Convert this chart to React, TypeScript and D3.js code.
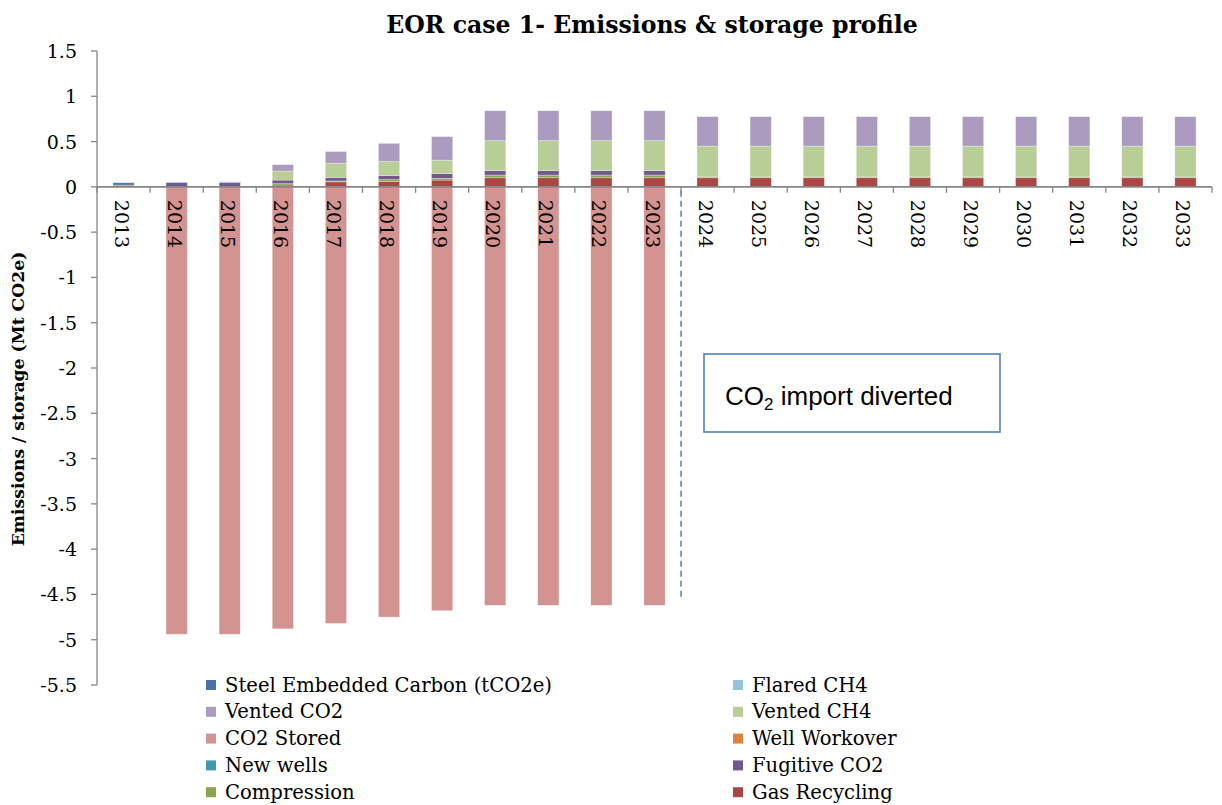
import React from 'react';
import * as d3 from 'd3';

const years = ['2013','2014','2015','2016','2017','2018','2019','2020','2021','2022','2023','2024','2025','2026','2027','2028','2029','2030','2031','2032','2033'];

// series values (Mt CO2e)
const gasRecycling = [0, 0, 0, 0.02, 0.055, 0.06, 0.075, 0.10, 0.10, 0.10, 0.10, 0.10, 0.10, 0.10, 0.10, 0.10, 0.10, 0.10, 0.10, 0.10, 0.10];
const compression = [0, 0, 0, 0.015, 0.01, 0.02, 0.02, 0.03, 0.03, 0.03, 0.03, 0.01, 0.01, 0.01, 0.01, 0.01, 0.01, 0.01, 0.01, 0.01, 0.01];
const fugitiveCO2 = [0, 0.05, 0.05, 0.04, 0.04, 0.045, 0.05, 0.05, 0.05, 0.05, 0.05, 0, 0, 0, 0, 0, 0, 0, 0, 0, 0];
const newWells = [0, 0, 0, 0, 0, 0, 0, 0, 0, 0, 0, 0, 0, 0, 0, 0, 0, 0, 0, 0, 0];
const wellWorkover = [0.02, 0, 0, 0, 0, 0, 0, 0, 0, 0, 0, 0, 0, 0, 0, 0, 0, 0, 0, 0, 0];
const co2Stored = [0, -4.94, -4.94, -4.88, -4.82, -4.75, -4.68, -4.62, -4.62, -4.62, -4.62, 0, 0, 0, 0, 0, 0, 0, 0, 0, 0];
const ventedCH4 = [0, 0, 0, 0.10, 0.155, 0.155, 0.15, 0.33, 0.33, 0.33, 0.33, 0.34, 0.34, 0.34, 0.34, 0.34, 0.34, 0.34, 0.34, 0.34, 0.34];
const ventedCO2 = [0, 0, 0, 0.07, 0.13, 0.20, 0.26, 0.33, 0.33, 0.33, 0.33, 0.325, 0.325, 0.325, 0.325, 0.325, 0.325, 0.325, 0.325, 0.325, 0.325];
const flaredCH4 = [0, 0.005, 0.007, 0, 0, 0, 0, 0, 0, 0, 0, 0, 0, 0, 0, 0, 0, 0, 0, 0, 0];
const steelEmbedded = [0.025, 0, 0, 0, 0, 0, 0, 0, 0, 0, 0, 0, 0, 0, 0, 0, 0, 0, 0, 0, 0];

const yTicks = [1.5, 1, 0.5, 0, -0.5, -1, -1.5, -2, -2.5, -3, -3.5, -4, -4.5, -5, -5.5];

// legend order (row-wise, two columns)
const seriesDefs = [
  { name: 'Steel Embedded Carbon (tCO2e)', values: steelEmbedded, color: '#4a72a8' },
  { name: 'Flared CH4', values: flaredCH4, color: '#93c4d8' },
  { name: 'Vented CO2', values: ventedCO2, color: '#aa9bbf' },
  { name: 'Vented CH4', values: ventedCH4, color: '#b9cd96' },
  { name: 'CO2 Stored', values: co2Stored, color: '#d39391' },
  { name: 'Well Workover', values: wellWorkover, color: '#db843d' },
  { name: 'New wells', values: newWells, color: '#4198af' },
  { name: 'Fugitive CO2', values: fugitiveCO2, color: '#71588f' },
  { name: 'Compression', values: compression, color: '#89a54e' },
  { name: 'Gas Recycling', values: gasRecycling, color: '#aa4643' },
];

const W = 1222, H = 805;
const left = 97, right = 1212, top = 51, bottom = 685;
const serif = '"DejaVu Serif", serif';

export default function App() {
  const x = d3.scaleBand<string>().domain(years).range([left, right]).paddingInner(0.6).paddingOuter(0.3);
  const y = d3.scaleLinear().domain([-5.5, 1.5]).range([bottom, top]);

  // stacking order: reverse of legend (Gas Recycling at bottom)
  const stackOrder = [...seriesDefs].reverse();
  const rows = years.map((yr, i) => {
    const r: any = { year: yr };
    stackOrder.forEach(s => { r[s.name] = s.values[i]; });
    return r;
  });
  const stack = d3.stack<any>().keys(stackOrder.map(s => s.name)).offset(d3.stackOffsetDiverging);
  const layers = stack(rows);
  const colorOf = (n: string) => seriesDefs.find(s => s.name === n)!.color;

  const step = x.step();
  const y0 = y(0);
  const boundaries = d3.range(years.length + 1).map(i => left + i * step);

  const divX = (x('2023')! + x('2024')! + x.bandwidth()) / 2;

  return (
    <div style={{ position: 'absolute', left: 0, top: 0 }}>
      <svg width={W} height={H} style={{ display: 'block', background: '#fff' }}>
        <text x={652} y={33} textAnchor="middle" fontFamily={serif} fontWeight="bold" fontSize={23.6}>EOR case 1- Emissions &amp; storage profile</text>

        {/* bars */}
        {layers.map(layer => (
          <g key={layer.key} fill={colorOf(layer.key)}>
            {layer.map((d, i) => {
              const h = Math.abs(y(d[0]) - y(d[1]));
              if (h < 0.01) return null;
              return (
                <rect key={i} x={x(years[i])} y={Math.min(y(d[0]), y(d[1]))} width={x.bandwidth()} height={h}
                  stroke="#ffffff" strokeOpacity={0.5} strokeWidth={0.6} />
              );
            })}
          </g>
        ))}

        {/* y axis */}
        <line x1={left} x2={left} y1={top} y2={bottom} stroke="#868686" strokeWidth={1.3} />
        {yTicks.map(t => (
          <g key={t}>
            <line x1={left - 6} x2={left} y1={y(t)} y2={y(t)} stroke="#868686" strokeWidth={1.3} />
            <text x={77} y={y(t)} textAnchor="end" dominantBaseline="central" fontFamily={serif} fontSize={19}>{t}</text>
          </g>
        ))}

        {/* x axis */}
        <line x1={left} x2={right} y1={y0} y2={y0} stroke="#868686" strokeWidth={1.6} />
        {boundaries.map((b, i) => (
          <line key={i} x1={b} x2={b} y1={y0} y2={y0 + 6} stroke="#868686" strokeWidth={1.3} />
        ))}
        {years.map(yr => (
          <text key={yr} transform={`translate(${x(yr)! + x.bandwidth() / 2 - 2},${y0 + 13}) rotate(90)`} textAnchor="start" dominantBaseline="central" fontFamily={serif} fontSize={19}>{yr}</text>
        ))}

        {/* y axis title */}
        <text transform={`translate(18,${(top + bottom) / 2 + 31}) rotate(-90)`} textAnchor="middle" dominantBaseline="central" fontFamily={serif} fontWeight="bold" fontSize={17.2}>Emissions / storage (Mt CO2e)</text>

        {/* divider */}
        <line x1={divX} x2={divX} y1={y0 + 4} y2={y(-4.55)} stroke="#4f81bd" strokeWidth={1.5} strokeDasharray="6,4" />

        {/* annotation box */}
        <rect x={704} y={354} width={296} height={78} fill="#fff" stroke="#4f81bd" strokeWidth={1.6} />
        <text x={725} y={405} fontFamily='"Liberation Sans", Arial, sans-serif' fontSize={26}>
          CO<tspan fontSize={17} dy={5}>2</tspan><tspan dy={-5}> import diverted</tspan>
        </text>

        {/* legend */}
        {seriesDefs.map((s, i) => {
          const col = i % 2, row = Math.floor(i / 2);
          const lx = col === 0 ? 206 : 733;
          const ly = 685 + row * 26.8;
          return (
            <g key={s.name}>
              <rect x={lx} y={ly - 5} width={10} height={10} fill={s.color} />
              <text x={lx + 19} y={ly} dominantBaseline="central" fontFamily={serif} fontSize={19.6}>{s.name}</text>
            </g>
          );
        })}
      </svg>
    </div>
  );
}
